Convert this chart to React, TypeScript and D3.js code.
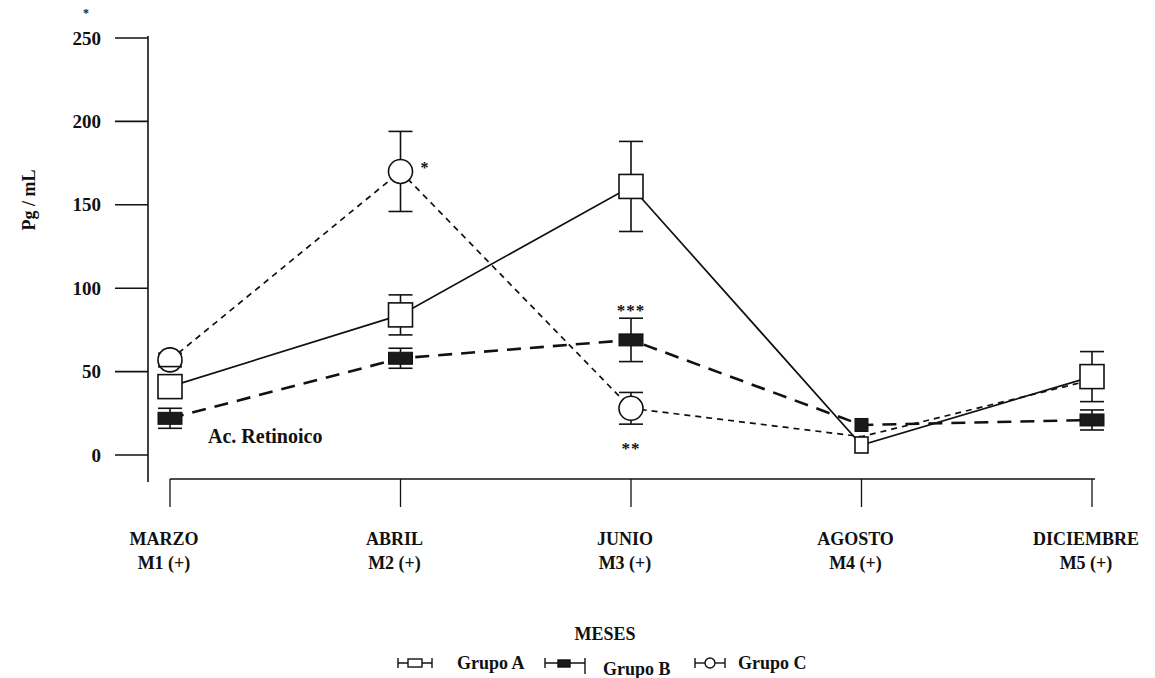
import React from 'react';
import * as d3 from 'd3';

// months on the x axis (two-line labels)
const months = ['M1', 'M2', 'M3', 'M4', 'M5'];
const monthNames = ['MARZO', 'ABRIL', 'JUNIO', 'AGOSTO', 'DICIEMBRE'];
const monthCodes = ['M1 (+)', 'M2 (+)', 'M3 (+)', 'M4 (+)', 'M5 (+)'];

const yTicks = [0, 50, 100, 150, 200, 250];

// Pg/mL
const grupoA = [41, 84, 161, 6, 47];
const grupoAErr = [6, 12, 27, null, 15];
const grupoB = [22, 58, 69, 18, 21];
const grupoBErr = [6, 6, 13, null, 6];
const grupoC = [57, 170, 28, 11, 45];
const grupoCErr = [4, 24, 9.5, null, null];

const W = 1155;
const H = 678;
const FONT = "'Liberation Serif', 'DejaVu Serif', serif";

const App = () => {
  const x = d3.scalePoint<string>().domain(months).range([170, 1092]);
  const y = d3.scaleLinear().domain([0, 250]).range([455, 38]);

  const line = d3.line<number>()
    .x((d, i) => x(months[i]) as number)
    .y((d) => y(d));

  const errorBars = (vals: number[], errs: (number | null)[], key: string) =>
    vals.map((v, i) => {
      const e = errs[i];
      if (e == null) return null;
      const cx = x(months[i]) as number;
      return (
        <g key={key + i} stroke="#111" strokeWidth={1.6}>
          <line x1={cx} x2={cx} y1={y(v + e)} y2={y(v - e)} />
          <line x1={cx - 12} x2={cx + 12} y1={y(v + e)} y2={y(v + e)} />
          <line x1={cx - 12} x2={cx + 12} y1={y(v - e)} y2={y(v - e)} />
        </g>
      );
    });

  const xA = (i: number) => x(months[i]) as number;
  const axisY = 479;

  return (
    <svg width={W} height={H} style={{ position: 'absolute', left: 0, top: 0, background: '#fff', fontFamily: FONT, fontWeight: 'bold' }}>
      {/* stray mark at the top of the scan */}
      <text x={86} y={17} fontSize={12} textAnchor="middle" fill="#222">*</text>

      {/* y axis */}
      <line x1={148} x2={148} y1={36} y2={482} stroke="#111" strokeWidth={1.6} />
      {yTicks.map((t) => (
        <g key={t}>
          <line x1={115} x2={148} y1={y(t)} y2={y(t)} stroke="#111" strokeWidth={1.6} />
          <text x={101} y={y(t)} dy="0.35em" textAnchor="end" fontSize={19} fill="#111">{t}</text>
        </g>
      ))}
      <text transform="translate(35,200) rotate(-90)" textAnchor="middle" fontSize={18} fill="#111">Pg / mL</text>

      {/* x axis */}
      <line x1={x('M1')} x2={(x('M5') as number) + 3} y1={axisY} y2={axisY} stroke="#111" strokeWidth={1.6} />
      {months.map((m, i) => (
        <g key={m}>
          <line x1={x(m)} x2={x(m)} y1={axisY} y2={axisY + 28} stroke="#111" strokeWidth={1.3} />
          <text x={(x(m) as number) - 6} y={545} textAnchor="middle" fontSize={18} fill="#111">{monthNames[i]}</text>
          <text x={(x(m) as number) - 6} y={569} textAnchor="middle" fontSize={18} fill="#111">{monthCodes[i]}</text>
        </g>
      ))}
      <text x={605} y={640} textAnchor="middle" fontSize={18} fill="#111">MESES</text>

      {/* series lines */}
      <path d={line(grupoC) as string} fill="none" stroke="#111" strokeWidth={1.7} strokeDasharray="6 5" />
      <path d={line(grupoA) as string} fill="none" stroke="#111" strokeWidth={1.7} />
      <path d={line(grupoB) as string} fill="none" stroke="#111" strokeWidth={2.6} strokeDasharray="14 9" />

      {/* error bars */}
      {errorBars(grupoA, grupoAErr, 'a')}
      {errorBars(grupoB, grupoBErr, 'b')}
      {errorBars(grupoC, grupoCErr, 'c')}

      {/* markers: smaller where the point has no error bar */}
      {grupoA.map((v, i) => {
        const w = grupoAErr[i] == null ? 13 : 24;
        const h = grupoAErr[i] == null ? 16 : 24;
        return (
          <rect key={'ma' + i} x={xA(i) - w / 2} y={y(v) - h / 2} width={w} height={h}
            fill="#fff" stroke="#111" strokeWidth={1.6} />
        );
      })}
      {grupoB.map((v, i) => {
        const w = grupoBErr[i] == null ? 13 : 24;
        const h = grupoBErr[i] == null ? 13 : 12;
        return (
          <rect key={'mb' + i} x={xA(i) - w / 2} y={y(v) - h / 2} width={w} height={h}
            fill="#1a1a1a" stroke="#111" strokeWidth={1} />
        );
      })}
      {grupoC.map((v, i) => grupoCErr[i] == null ? null : (
        <g key={'mc' + i}>
          <circle cx={xA(i)} cy={y(v)} r={12} fill="#fff" stroke="#111" strokeWidth={1.6} />
          {i === 0 && <line x1={xA(i) - 12} x2={xA(i) + 12} y1={y(v - 4)} y2={y(v - 4)} stroke="#111" strokeWidth={1.6} />}
        </g>
      ))}

      {/* significance marks */}
      <text x={xA(1) + 20} y={y(grupoC[1]) + 2} fontSize={16} fill="#111">*</text>
      <text x={xA(2)} y={y(grupoB[2] + 13) - 2} textAnchor="middle" fontSize={17} letterSpacing={1} fill="#111">***</text>
      <text x={xA(2)} y={y(grupoC[2] - 9.5) + 30} textAnchor="middle" fontSize={17} letterSpacing={1} fill="#111">**</text>

      <text x={208} y={443} fontSize={20} fill="#111">Ac. Retinoico</text>

      {/* legend */}
      <g stroke="#111" strokeWidth={1.4} fill="none">
        <line x1={398} x2={432} y1={663} y2={663} />
        <line x1={398} x2={398} y1={658} y2={668} />
        <line x1={432} x2={432} y1={658} y2={668} />
        <rect x={408} y={659} width={14} height={8} fill="#fff" />

        <line x1={545} x2={585} y1={663} y2={663} />
        <line x1={545} x2={545} y1={658} y2={668} />
        <line x1={585} x2={585} y1={658} y2={674} />
        <rect x={558} y={660} width={12} height={7} fill="#1a1a1a" />

        <line x1={695} x2={725} y1={663} y2={663} />
        <line x1={695} x2={695} y1={658} y2={668} />
        <line x1={725} x2={725} y1={658} y2={668} />
        <circle cx={710} cy={663} r={5} fill="#fff" />
      </g>
      <text x={457} y={669} fontSize={18} fill="#111">Grupo A</text>
      <text x={603} y={675} fontSize={18} fill="#111">Grupo B</text>
      <text x={738} y={669} fontSize={18} fill="#111">Grupo C</text>
    </svg>
  );
};

export default App;
